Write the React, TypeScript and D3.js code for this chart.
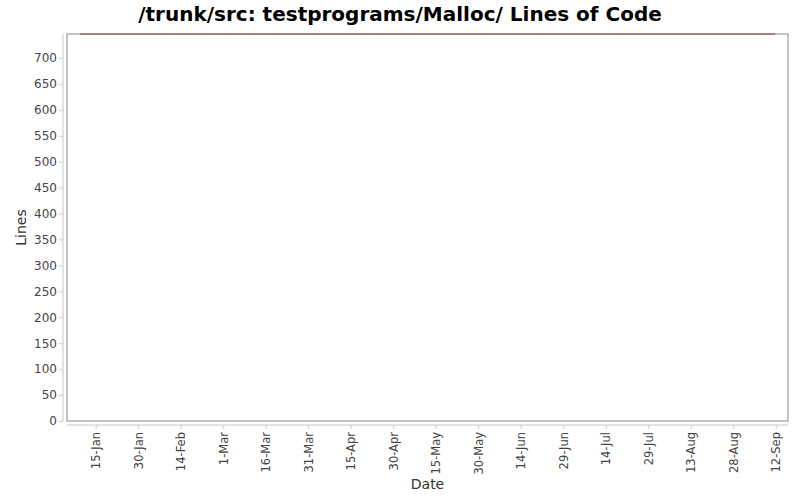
import React, { useRef, useEffect } from 'react';
import * as d3 from 'd3';

// commit history of the directory (lines of code)
const commitDates = ['2007-01-09T11:00', '2007-09-11T18:00'];
const lineCounts = [746, 746];

const xTickDates = [
  '2007-01-15', '2007-01-30', '2007-02-14', '2007-03-01', '2007-03-16', '2007-03-31',
  '2007-04-15', '2007-04-30', '2007-05-15', '2007-05-30', '2007-06-14', '2007-06-29',
  '2007-07-14', '2007-07-29', '2007-08-13', '2007-08-28', '2007-09-12',
];
const yTicks = [0, 50, 100, 150, 200, 250, 300, 350, 400, 450, 500, 550, 600, 650, 700];

const width = 800;
const height = 500;
const plot = { left: 67, right: 788, top: 34, bottom: 421 };
const font = '"DejaVu Sans", Verdana, sans-serif';

const App: React.FC = () => {
  const svgRef = useRef<SVGSVGElement>(null);

  useEffect(() => {
    if (!svgRef.current) return;
    const svg = d3.select(svgRef.current);
    svg.selectAll('*').remove();

    const parse = (s: string) => new Date(s);
    const data = commitDates.map((d, i) => ({ date: parse(d), value: lineCounts[i] }));

    const xScale = d3
      .scaleTime()
      .domain([parse('2007-01-04T21:00'), parse('2007-09-16T08:00')])
      .range([plot.left, plot.right]);

    const yScale = d3
      .scaleLinear()
      .domain([0, d3.max(lineCounts) || 0])
      .range([plot.bottom, plot.top]);

    svg.append('rect')
      .attr('width', width)
      .attr('height', height)
      .attr('fill', '#ffffff');

    // title
    svg.append('text')
      .attr('x', width / 2)
      .attr('y', 21)
      .attr('text-anchor', 'middle')
      .attr('font-family', font)
      .attr('font-size', '20px')
      .attr('font-weight', 'bold')
      .attr('fill', '#000')
      .text('/trunk/src: testprograms/Malloc/ Lines of Code');

    // plot background and outline
    svg.append('rect')
      .attr('x', plot.left)
      .attr('y', plot.top)
      .attr('width', plot.right - plot.left)
      .attr('height', plot.bottom - plot.top)
      .attr('fill', '#ffffff')
      .attr('stroke', '#888888')
      .attr('stroke-width', 1);

    // y axis
    const yAxis = d3.axisLeft(yScale).tickValues(yTicks).tickSize(4).tickPadding(2);
    const yg = svg.append('g')
      .attr('transform', `translate(${plot.left - 4},0)`)
      .call(yAxis);
    yg.select('.domain').attr('stroke', '#c8c8c8').attr('d', `M0,${plot.top}V${plot.bottom}`);
    yg.selectAll('.tick line').attr('stroke', '#c8c8c8');
    yg.selectAll('.tick text')
      .attr('font-family', font)
      .attr('font-size', '12px')
      .attr('fill', '#444444');

    // x axis
    const xAxis = d3
      .axisBottom(xScale)
      .tickValues(xTickDates.map(parse))
      .tickFormat(d => d3.timeFormat('%-d-%b')(d as Date))
      .tickSize(4);
    const xg = svg.append('g')
      .attr('transform', `translate(0,${plot.bottom + 4})`)
      .call(xAxis);
    xg.select('.domain').attr('stroke', '#c8c8c8').attr('d', `M${plot.left},0H${plot.right}`);
    xg.selectAll('.tick line').attr('stroke', '#c8c8c8');
    xg.selectAll('.tick text')
      .attr('font-family', font)
      .attr('font-size', '11.5px')
      .attr('fill', '#444444')
      .attr('text-anchor', 'end')
      .attr('dy', null)
      .attr('y', 0)
      .attr('transform', 'translate(4,7) rotate(-90)');

    // axis labels
    svg.append('text')
      .attr('transform', `translate(26,${(plot.top + plot.bottom) / 2}) rotate(-90)`)
      .attr('text-anchor', 'middle')
      .attr('font-family', font)
      .attr('font-size', '14px')
      .attr('fill', '#333333')
      .text('Lines');

    svg.append('text')
      .attr('x', (plot.left + plot.right) / 2)
      .attr('y', 489)
      .attr('text-anchor', 'middle')
      .attr('font-family', font)
      .attr('font-size', '14px')
      .attr('fill', '#333333')
      .text('Date');

    // series line
    const line = d3
      .line<{ date: Date; value: number }>()
      .x(d => xScale(d.date))
      .y(d => yScale(d.value));

    svg.append('path')
      .datum(data)
      .attr('fill', 'none')
      .attr('stroke', '#8e3a3f')
      .attr('stroke-width', 1)
      .attr('d', line);
  }, []);

  return (
    <svg
      ref={svgRef}
      width={width}
      height={height}
      style={{ position: 'absolute', left: 0, top: 0, display: 'block' }}
    />
  );
};

export default App;
